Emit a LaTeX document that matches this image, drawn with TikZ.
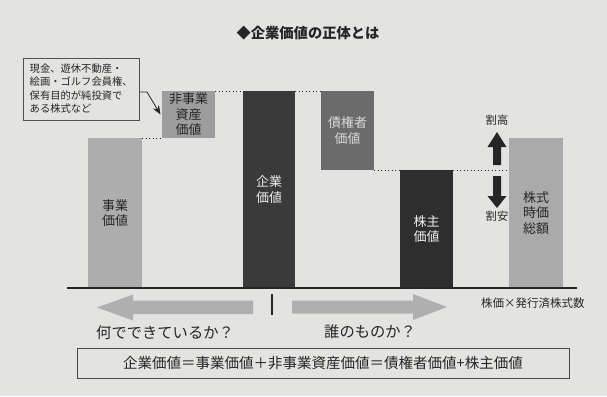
\documentclass[tikz,border=0pt]{standalone}
\usepackage{fontspec}
\setmainfont{Noto Sans CJK JP}
\usetikzlibrary{arrows.meta}
\definecolor{paper}{HTML}{E3E3E1}
\definecolor{inkdark}{HTML}{262626}
\definecolor{cJigyo}{HTML}{ADADAD}
\definecolor{cHiji}{HTML}{9D9D9D}
\definecolor{cKigyo}{HTML}{3A3A3A}
\definecolor{cSaiken}{HTML}{6B6B6B}
\definecolor{cKabu}{HTML}{2E2E2E}
\definecolor{cJika}{HTML}{AAAAAA}
\definecolor{cArrow}{HTML}{AFAFAF}
\begin{document}
\begin{tikzpicture}[x=1pt,y=-1pt,
  bar/.style={anchor=north west, inner sep=0pt, outer sep=0pt, align=center,
    font=\fontsize{13}{15.5}\selectfont},
  dotline/.style={inkdark, line width=1pt, dash pattern=on 1.2pt off 2.3pt},
  blockarrow/.style={fill=#1, draw=none},
  lbl/.style={inner sep=0pt, text=inkdark}
]
\useasboundingbox (0,0) rectangle (607,396);
\fill[paper] (0,0) rectangle (607,396);

% title
\node[lbl, font=\fontsize{14.3}{16}\selectfont\bfseries] (title) at (308,33) {◆企業価値の正体とは};

% bars
\node[bar, fill=cJigyo, minimum width=54pt, minimum height=150pt, text=inkdark] (jigyo) at (88,138) {事業\\価値};
\node[bar, fill=cHiji, minimum width=53pt, minimum height=47pt, text=inkdark] (hiji) at (162,91) {非事業\\資産\\価値};
\node[bar, fill=cKigyo, minimum width=52pt, minimum height=197pt, text=white!92!black] (kigyo) at (243,91) {企業\\価値};
\node[bar, fill=cSaiken, minimum width=53pt, minimum height=79pt, text=white!85!black] (saiken) at (321,91) {債権者\\価値};
\node[bar, fill=cKabu, minimum width=53pt, minimum height=118pt, text=white!93!black] (kabu) at (400,170) {株主\\価値};
\node[bar, fill=cJika, minimum width=54pt, minimum height=150pt, text=inkdark] (jika) at (509,138) {株式\\時価\\総額};

% dotted guide lines
\coordinate (jikaleft) at (509,170);
\draw[dotline] (jigyo.north east) -- (hiji.south west);
\draw[dotline] (hiji.north east) -- (kigyo.north west);
\draw[dotline] (kigyo.north east) -- (saiken.north west);
\draw[dotline] (saiken.south east) -- (kabu.north west);
\draw[dotline] (kabu.north east) -- (jikaleft);

% baseline
\coordinate (bl) at (67,288);
\coordinate (br) at (577,288);
\draw[inkdark, line width=1.3pt] (bl) -- (br);

% callout
\node[draw=inkdark!80, line width=0.8pt, fill=paper, anchor=north west, minimum width=116pt, minimum height=62pt,
  inner sep=0pt, text=inkdark] (callout) at (23,58) {};
\node[lbl, anchor=north west, align=left, font=\fontsize{10.3}{13.4}\selectfont] (callouttext) at (29.5,63.5)
  {現金、遊休不動産・\\絵画・ゴルフ会員権、\\保有目的が純投資で\\ある株式など};
\coordinate (cbend) at (147,92);
\coordinate (ctip) at (160.5,114.5);
\draw[inkdark, line width=0.8pt, -{Stealth[length=9pt,width=7pt]}] (callout.east |- cbend) -- (cbend) -- (ctip);

% up / down arrows
\fill[inkdark] (497,132) -- (506.5,147) -- (501,147) -- (501,165) -- (493,165) -- (493,147) -- (487.5,147) -- cycle;
\fill[inkdark] (497,208) -- (506.5,196) -- (501,196) -- (501,176) -- (493,176) -- (493,196) -- (487.5,196) -- cycle;
\node[lbl, font=\fontsize{11.3}{13}\selectfont] (wariyasu0) at (497,120) {割高};
\node[lbl, font=\fontsize{11.3}{13}\selectfont] (wariyasu) at (497,216) {割安};

% bottom arrows
\fill[cArrow] (97,307.5) -- (133,294.5) -- (133,300.5) -- (253,300.5) -- (253,314) -- (133,314) -- (133,320.5) -- cycle;
\fill[cArrow] (447,307) -- (413,294) -- (413,300.5) -- (292,300.5) -- (292,313.5) -- (413,313.5) -- (413,320) -- cycle;
\coordinate (ticktop) at (272,294);
\coordinate (tickbot) at (272,315);
\draw[inkdark, line width=1.3pt] (ticktop) -- (tickbot);

\node[lbl, anchor=west, font=\fontsize{11.5}{13}\selectfont] (kabuka) at (481,303) {株価×発行済株式数};
\node[lbl, anchor=west, font=\fontsize{15.3}{17}\selectfont] (nani) at (96,333) {何でできているか？};
\node[lbl, anchor=west, font=\fontsize{15.3}{17}\selectfont] (dare) at (324,332) {誰のものか？};

% formula box
\node[draw=inkdark!85, line width=0.9pt, minimum width=492pt, minimum height=30pt, inner sep=0pt,
  text=inkdark, font=\fontsize{14.5}{16}\selectfont] (formula) at (323,363)
  {企業価値＝事業価値＋非事業資産価値＝債権者価値+株主価値};
\end{tikzpicture}
\end{document}
